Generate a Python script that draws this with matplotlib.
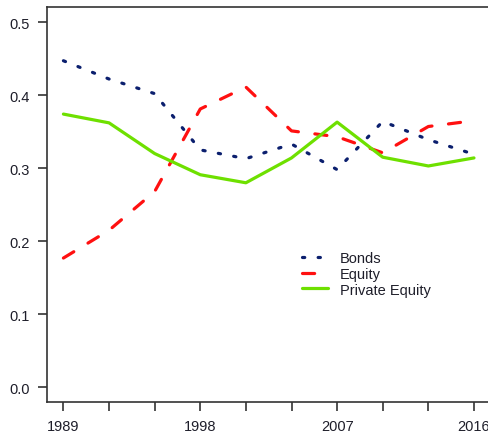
import matplotlib
matplotlib.use('Agg')
from matplotlib import pyplot as plt

################################################################################
### Data (shares)
################################################################################
years = [1989, 1992, 1995, 1998, 2001, 2004, 2007, 2010, 2013, 2016]
bonds = [0.447, 0.422, 0.402, 0.325, 0.313, 0.333, 0.298, 0.364, 0.339, 0.319]
equity = [0.177, 0.215, 0.268, 0.381, 0.411, 0.351, 0.343, 0.321, 0.357, 0.365]
private_equity = [0.374, 0.362, 0.320, 0.291, 0.280, 0.314, 0.363, 0.315, 0.303, 0.314]
year_labels = ['1989', '', '', '1998', '', '', '2007', '', '', '2016']
y_ticks = [0.0, 0.1, 0.2, 0.3, 0.4, 0.5]

plt.rcParams['font.family'] = ['Liberation Sans', 'DejaVu Sans']
axcol = '#333333'
txtcol = '#1e1e2a'

################################################################################
### Figure
################################################################################
fig = plt.figure(figsize=(4.88, 4.35), dpi=100)
ax = fig.add_axes([47 / 488, 32 / 435, 443.4 / 488, 394.6 / 435])

lw = 2.3
ax.plot(years, bonds, color='#0b1f6e', lw=lw, dashes=(0.7, 4.2),
        dash_capstyle='round', label='Bonds')
ax.plot(years, equity, color='#ff1010', lw=lw, dashes=(3.8, 5.2),
        dash_capstyle='round', label='Equity')
ax.plot(years, private_equity, color='#6ee000', lw=lw,
        solid_capstyle='round', label='Private Equity')

ax.set_xlim(1987.92, 2017.08)
ax.set_ylim(-0.02, 0.52)
ax.set_xticks(years)
ax.set_xticklabels(year_labels)
ax.set_yticks(y_ticks)
ax.set_yticklabels(['%.1f' % v for v in y_ticks])

for s in ax.spines.values():
    s.set_color(axcol)
    s.set_linewidth(1.2)
ax.tick_params(colors=axcol, labelcolor=txtcol, length=6.5, width=1.2,
               labelsize=10.5)
ax.tick_params(axis='x', pad=6)
ax.tick_params(axis='y', pad=6)

leg = ax.legend(loc='upper left', bbox_to_anchor=(302 / 488, (435 - 252) / 435),
                bbox_transform=fig.transFigure, frameon=False, fontsize=10.5,
                handlelength=1.8, handletextpad=0.8, labelspacing=0.12,
                borderpad=0, borderaxespad=0)
for t in leg.get_texts():
    t.set_color(txtcol)

fig.savefig('out.png', dpi=100)
plt.close(fig)
